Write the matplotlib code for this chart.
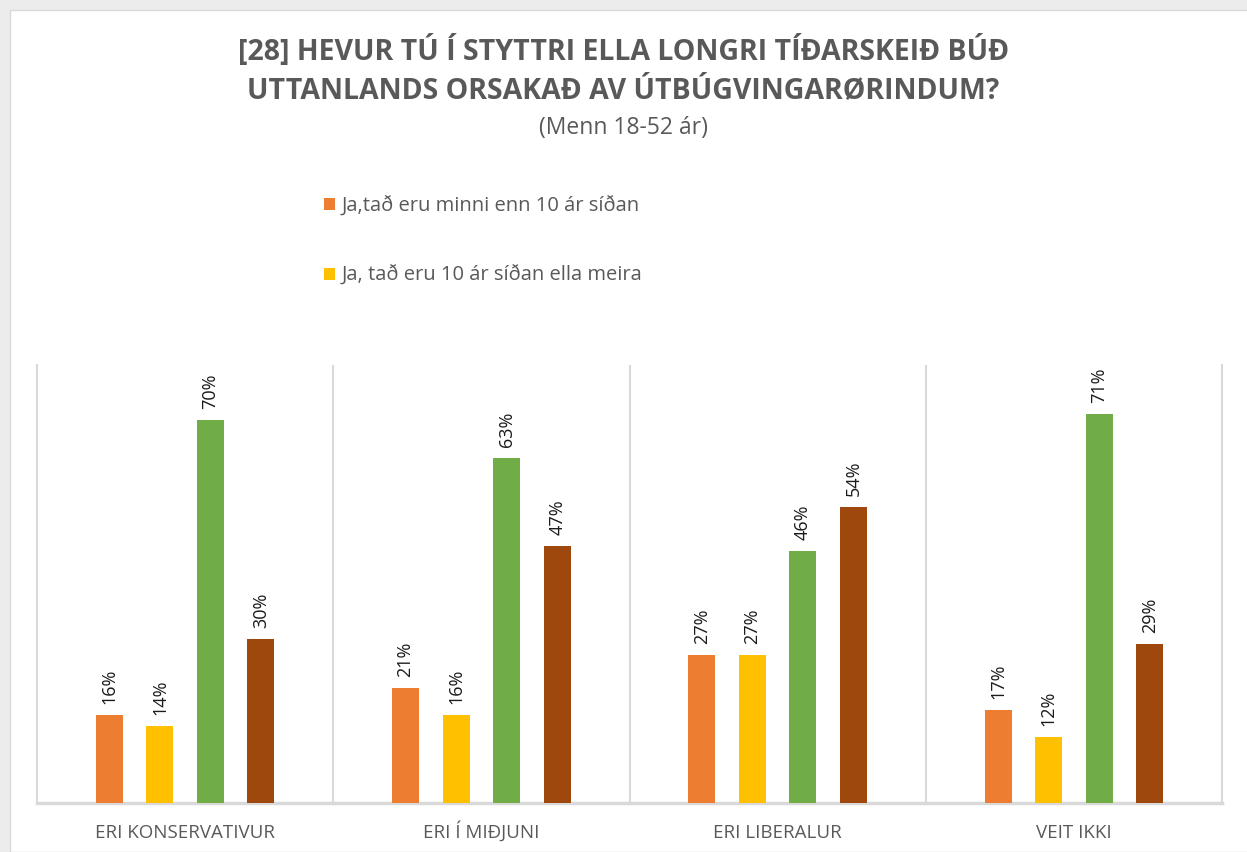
import numpy as np
import matplotlib.pyplot as plt
from matplotlib.patches import Rectangle

plt.rcParams['font.family'] = ['Open Sans', 'DejaVu Sans']

categories = ["ERI KONSERVATIVUR", "ERI Í MIÐJUNI", "ERI LIBERALUR", "VEIT IKKI"]
series_names = ["Ja,tað eru minni enn 10 ár síðan",
                "Ja, tað eru 10 ár síðan ella meira",
                "series 3", "series 4"]
values = [
    [16, 21, 27, 17],   # orange
    [14, 16, 27, 12],   # yellow
    [70, 63, 46, 71],   # green
    [30, 47, 54, 29],   # brown
]
colors = ["#ED7D31", "#FFC000", "#70AD47", "#9E480E"]

fig = plt.figure(figsize=(12.47, 8.52), dpi=100)
fig.patch.set_facecolor("#ececec")
# white chart area, grey strip on top and left
fig.patches.append(Rectangle((10 / 1247, 0), 1, 1 - 10 / 852, transform=fig.transFigure,
                             facecolor="white", edgecolor="#d9d9d9", lw=1, zorder=-10))

ax = fig.add_axes([37 / 1247, 49 / 852, 1185 / 1247, 438 / 852])
ax.set_facecolor("none")

x = np.arange(len(categories))
offsets = [-0.256, -0.085, 0.085, 0.256]
width = 0.091
bars = []
for vals, off, c, name in zip(values, offsets, colors, series_names):
    b = ax.bar(x + off, vals, width, color=c, label=name, zorder=3)
    bars.append(b)
    for xi, v in zip(x, vals):
        ax.annotate(f"{v}%", (xi + off, v), xytext=(0, 8), textcoords="offset points",
                    rotation=90, ha="center", va="bottom", fontsize=13, color="#1a1a1a")

ax.set_xlim(-0.5, 3.5)
ax.set_ylim(0, 80)
ax.set_yticks([])
ax.set_xticks(x)
ax.set_xticklabels(categories, fontsize=13.5, color="#595959", va="baseline")
ax.tick_params(axis="x", length=0, pad=25)
for xb in np.arange(0.5, 3.5, 1):
    ax.axvline(xb, color="#d9d9d9", lw=1.5, zorder=1)
ax.spines["top"].set_visible(False)
for s in ["left", "right"]:
    ax.spines[s].set_color("#d9d9d9")
    ax.spines[s].set_linewidth(1.5)
ax.spines["bottom"].set_color("#d9d9d9")
ax.spines["bottom"].set_linewidth(2.5)

fig.legend(handles=[bars[0], bars[1]], loc="upper left",
           bbox_to_anchor=(306 / 1247, 1 - 178 / 852), frameon=False,
           fontsize=14.5, labelcolor="#595959", handlelength=0.55, handleheight=0.55,
           handletextpad=0.3, labelspacing=2.45)

fig.text(0.5, 1 - 51 / 852, "[28] HEVUR TÚ Í STYTTRI ELLA LONGRI TÍÐARSKEIÐ BÚÐ",
         ha="center", va="center", fontsize=20.5, fontweight="bold", color="#595959")
fig.text(0.5, 1 - 91 / 852, "UTTANLANDS ORSAKAÐ AV ÚTBÚGVINGARØRINDUM?",
         ha="center", va="center", fontsize=20.5, fontweight="bold", color="#595959")
fig.text(0.5, 1 - 128 / 852, "(Menn 18-52 ár)",
         ha="center", va="center", fontsize=16.5, color="#595959")

fig.savefig("out.png", dpi=100)
